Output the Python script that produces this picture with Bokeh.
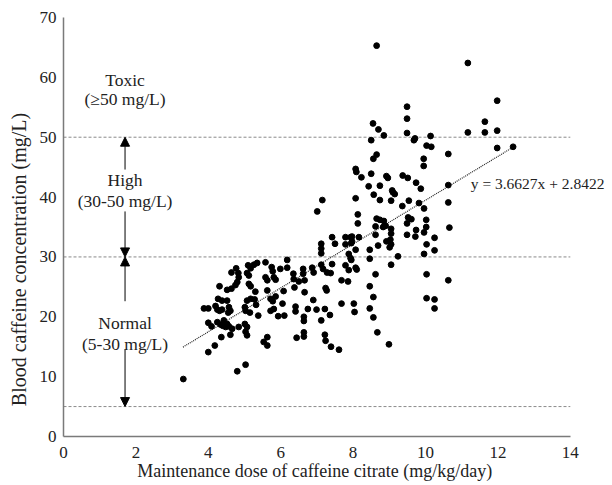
from bokeh.plotting import figure
from bokeh.models import Range1d, Label, Arrow, NormalHead, ColumnDataSource
from bokeh.embed import file_html
from bokeh.resources import INLINE

# ---- data ----
dose = [
    3.31, 3.88, 4.00, 4.20, 4.25, 4.31, 4.38, 4.57, 4.61, 4.55, 5.01, 5.03, 5.15, 5.38,
    5.81, 5.93, 5.72, 4.00, 4.09, 4.25, 4.34, 4.43, 4.52, 4.57, 4.48, 4.40, 4.66, 4.61,
    4.84, 5.01, 5.07, 5.03, 5.07, 4.36, 4.18, 4.00, 5.53, 5.63, 5.63, 5.03, 4.80, 4.27,
    4.38, 4.52, 5.07, 5.17, 5.28, 5.32, 5.72, 5.78, 5.86, 4.31, 4.52, 4.64, 5.12, 5.17,
    5.63, 5.30, 4.80, 4.75, 4.64, 4.83, 4.84, 5.07, 5.12, 5.58, 5.63, 5.81, 5.86, 4.77,
    5.10, 5.17, 5.26, 5.35, 5.58, 5.75, 5.78, 5.99,
    6.05, 6.08, 6.18, 6.18, 6.62, 6.62, 6.87, 6.91, 7.12, 7.17, 7.28, 7.38, 7.42, 7.79,
    7.88, 8.07, 8.10, 7.95, 6.35, 6.36, 6.50, 6.38, 6.66, 6.66, 7.24, 7.27, 7.68, 7.86,
    6.90, 6.41, 6.41, 6.75, 6.99, 7.22, 7.36, 7.68, 6.64, 6.64, 7.12, 6.64, 6.64, 6.44,
    7.22, 7.24, 7.39, 7.61, 6.10, 7.42, 7.79, 7.93, 7.50, 7.12, 7.12, 7.12, 7.79, 7.95,
    7.88, 7.93, 7.01, 7.15,
    7.97, 7.97, 8.16, 8.07, 8.13, 8.13, 8.07, 8.09, 8.23, 8.50, 8.92, 8.96, 9.37, 9.51,
    8.43, 8.74, 9.08, 9.15, 9.10, 8.57, 8.07, 8.74, 9.05, 9.36, 9.54, 8.65, 8.74, 8.85,
    8.90, 8.83, 9.05, 9.05, 9.03, 9.05, 9.01, 8.62, 8.62, 8.92, 8.69, 8.46, 8.46, 9.24,
    9.05, 8.62, 8.46, 8.56, 8.02, 8.04, 8.46, 8.56, 8.67, 8.99, 8.65, 8.56, 8.65, 8.55,
    8.70, 8.50, 8.85,
    9.49, 9.49, 9.49, 9.68, 9.71, 10.14, 10.03, 10.16, 9.95, 9.95, 10.63, 9.74, 9.87,
    10.63, 9.82, 9.96, 10.63, 9.52, 9.61, 9.49, 10.02, 10.02, 10.66, 9.74, 9.96, 9.49,
    9.72, 10.25, 10.03, 10.25, 9.96, 10.03, 10.63, 10.03, 10.25, 10.25,
    11.17, 11.98, 11.64, 11.17, 11.64, 11.98, 11.98, 12.42,
]
conc = [
    9.6, 21.4, 21.4, 21.8, 21.2, 21.0, 21.2, 21.6, 21.0, 20.7, 21.6, 21.0, 20.7, 20.2,
    21.3, 20.1, 21.0, 19.0, 18.4, 19.1, 18.7, 19.4, 18.8, 18.4, 18.3, 18.5, 18.0, 17.0,
    18.3, 18.8, 18.3, 17.5, 16.9, 16.6, 15.2, 14.1, 15.8, 15.2, 16.6, 12.0, 10.9, 23.0,
    22.7, 22.7, 22.7, 23.0, 22.9, 22.0, 23.0, 22.6, 23.4, 25.1, 24.5, 24.7, 25.5, 25.1,
    24.4, 24.2, 25.8, 25.3, 27.4, 27.3, 26.6, 27.3, 26.9, 26.6, 26.1, 26.6, 26.2, 28.1,
    28.6, 28.1, 28.7, 29.0, 29.1, 28.3, 27.6, 28.0,
    22.2, 24.3, 29.5, 28.2, 28.0, 27.2, 28.2, 27.4, 28.7, 28.0, 27.4, 27.3, 28.8, 28.6,
    27.8, 28.2, 27.9, 29.5, 27.2, 26.3, 25.9, 24.9, 26.1, 24.1, 24.8, 24.4, 26.1, 25.9,
    22.8, 21.7, 20.9, 21.3, 21.2, 21.3, 20.3, 22.2, 20.0, 19.3, 19.4, 17.4, 16.7, 16.5,
    17.0, 16.0, 15.0, 14.5, 20.2, 33.3, 33.3, 33.3, 32.2, 32.2, 31.4, 30.6, 32.1, 32.3,
    30.5, 29.8, 37.6, 39.5,
    33.4, 32.6, 33.3, 31.2, 37.1, 35.6, 44.7, 44.2, 43.3, 43.9, 43.5, 43.2, 43.6, 43.2,
    41.8, 41.9, 41.1, 40.5, 40.8, 40.4, 39.8, 39.5, 39.4, 38.5, 39.4, 36.4, 36.2, 36.0,
    35.2, 35.0, 34.7, 33.9, 32.9, 32.1, 31.6, 35.1, 33.7, 32.6, 31.9, 31.2, 29.7, 30.1,
    28.7, 27.1, 25.1, 23.3, 22.2, 20.8, 21.4, 19.9, 17.4, 15.4, 47.1, 46.4, 65.3, 52.3,
    51.3, 49.5, 50.3,
    55.1, 53.1, 50.7, 49.5, 49.8, 50.2, 48.6, 48.4, 46.4, 45.2, 47.2, 42.4, 41.4,
    42.0, 39.0, 38.1, 39.1, 36.6, 36.3, 35.6, 36.2, 35.0, 34.9, 34.5, 34.1, 33.7,
    33.4, 33.2, 32.1, 31.1, 30.5, 27.1, 26.1, 23.1, 22.9, 21.4,
    62.4, 56.1, 52.6, 50.8, 50.8, 51.1, 48.2, 48.4,
]

slope = 3.6627
intercept = 2.8422
fit_x = [3.3, 12.4]
fit_y = [slope * v + intercept for v in fit_x]

thresholds = [5, 30, 50]
x_ticks = [0, 2, 4, 6, 8, 10, 12, 14]
y_ticks = [0, 10, 20, 30, 40, 50, 60, 70]
x_max = 14

zone_x = 1.7
zone_labels = [("Toxic", 59.6), ("(\u226550 mg/L)", 56.4),
               ("High", 42.8), ("(30-50 mg/L)", 39.3),
               ("Normal", 19.0), ("(5-30 mg/L)", 15.5)]
arrows = [(44.6, 50), (37.6, 30), (22.6, 30), (14.6, 5)]

FONT = "Liberation Serif"

p = figure(width=610, height=485, output_backend="svg", toolbar_location=None,
           x_range=Range1d(0, 15), y_range=Range1d(0, 70),
           min_border_left=63, min_border_right=4, min_border_top=17, min_border_bottom=49)
p.outline_line_color = None
p.grid.grid_line_color = None
p.background_fill_color = "white"

for ax in (p.xaxis[0], p.yaxis[0]):
    ax.axis_line_color = "#7a7a7a"
    ax.axis_line_width = 1.5
    ax.major_tick_line_color = None
    ax.minor_tick_line_color = None
    ax.major_tick_out = 0
    ax.major_tick_in = 0
    ax.minor_tick_out = 0
    ax.minor_tick_in = 0
    ax.major_label_text_font = FONT
    ax.major_label_text_font_size = "17px"
    ax.major_label_text_color = "#222222"
    ax.axis_label_text_font = FONT
    ax.axis_label_text_font_style = "normal"
    ax.axis_label_text_color = "#222222"

p.xaxis.bounds = (0, x_max)
p.xaxis.ticker = x_ticks
p.yaxis.ticker = y_ticks
p.xaxis.axis_label = "Maintenance dose of caffeine citrate (mg/kg/day)" + "\u2002" * 4 + "\u00a0"
p.yaxis.axis_label = "Blood caffeine concentration (mg/L)" + "\u2002" * 6 + "\u00a0"
p.xaxis.axis_label_text_font_size = "18px"
p.yaxis.axis_label_text_font_size = "20px"
p.xaxis.major_label_standoff = 10
p.yaxis.major_label_standoff = 7
p.xaxis.axis_label_standoff = 0
p.yaxis.axis_label_standoff = 7

p.segment(x0=[0] * len(thresholds), x1=[x_max] * len(thresholds), y0=thresholds, y1=thresholds,
          line_color="#8a8a8a", line_dash="3 2", line_width=1)

p.line(fit_x, fit_y, line_color="#222222", line_dash="1 1", line_width=1.2)

src = ColumnDataSource(dict(x=dose, y=conc))
p.scatter("x", "y", source=src, size=5.8, fill_color="black", line_color="black")

p.add_layout(Label(x=11.25, y=slope * 10.8 + intercept - 0.2,
                   text="y = 3.6627x + 2.8422", text_font=FONT,
                   text_font_size="15.5px", text_color="#222222",
                   text_baseline="middle", text_align="left"))

for txt, yy in zone_labels:
    p.add_layout(Label(x=zone_x, y=yy, text=txt, text_font=FONT, text_font_size="17.5px",
                       text_color="#222222", text_align="center", text_baseline="middle"))

for y0, y1 in arrows:
    p.add_layout(Arrow(x_start=zone_x, y_start=y0, x_end=zone_x, y_end=y1,
                       line_color="black", line_width=1,
                       end=NormalHead(size=9, fill_color="black", line_color="black")))

open("out.html", "w").write(file_html(p, INLINE))
